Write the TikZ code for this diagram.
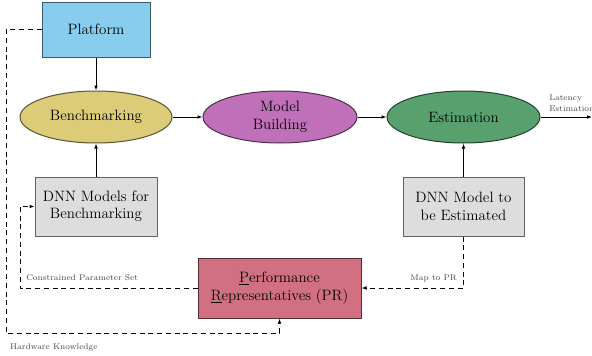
\documentclass[tikz,border=0pt]{standalone}
\usetikzlibrary{shapes.geometric,arrows.meta}
\definecolor{platblue}{HTML}{88CCEE}
\definecolor{benchsand}{HTML}{DDCC77}
\definecolor{modelpurple}{HTML}{C070B8}
\definecolor{estgreen}{HTML}{58A06E}
\definecolor{dnngray}{HTML}{DDDDDD}
\definecolor{prrose}{HTML}{D07080}
\definecolor{lblgray}{HTML}{444444}
\newcommand{\lblfont}{\fontsize{6.6}{8.8}\selectfont}
\begin{document}
\begin{tikzpicture}[x=0.8pt,y=-0.8pt]
\tikzstyle{block} = [draw,line width=0.8pt,align=center,font=\large,inner sep=0pt];
\tikzstyle{phase} = [block,ellipse,minimum width=152*0.8pt,minimum height=52*0.8pt];
\tikzstyle{flow} = [->,line width=0.8pt,>={Latex[length=4pt,width=3pt]}];
\tikzstyle{feed} = [flow,dash pattern=on 4pt off 3pt];
\tikzstyle{note} = [font=\lblfont,text=lblgray,inner sep=0pt];
\useasboundingbox (0,0) rectangle (592,355);

\node [block,fill=platblue,draw=platblue!45!black,minimum width=108*0.8pt,minimum height=55*0.8pt] (plat) at (96,29.5) {Platform};
\node [phase,fill=benchsand,draw=benchsand!40!black] (bench) at (96,117) {Benchmarking};
\node [phase,fill=modelpurple,draw=modelpurple!40!black,minimum width=154*0.8pt] (model) at (280,117) {Model\\Building};
\node [phase,fill=estgreen,draw=estgreen!40!black,minimum width=153*0.8pt] (est) at (463.5,117) {Estimation};
\node [block,fill=dnngray,draw=dnngray!45!black,minimum width=122*0.8pt,minimum height=59*0.8pt] (dnnb) at (96,206.5) {DNN Models for\\Benchmarking};
\node [block,fill=dnngray,draw=dnngray!45!black,minimum width=121*0.8pt,minimum height=59*0.8pt] (dnne) at (463.5,206.5) {DNN Model to\\be Estimated};
\node [block,fill=prrose,draw=prrose!40!black,minimum width=163*0.8pt,minimum height=60*0.8pt] (pr) at (279.5,288) {\underline{P}erformance\\\underline{R}epresentatives (PR)};

\coordinate (out) at (592,117);
\coordinate (hw) at (6,333);
\coordinate (cps) at (20,288);

\draw [flow] (plat) -- (bench);
\draw [flow] (bench) -- (model);
\draw [flow] (model) -- (est);
\draw [flow] (est) -- (out);
\draw [flow] (dnnb) -- (bench);
\draw [flow] (dnne) -- (est);

\draw [feed] (plat.west) -| (hw) -| (pr.south);
\draw [feed] (pr.west) -- (cps) |- (dnnb.west);
\draw [feed] (dnne.south) |- (pr.east);

\node [note,anchor=south west,align=left] (lat) at (549,112) {Latency\\Estimation};
\node [note,anchor=west] (cpsl) at (26,278) {Constrained Parameter Set};
\node [note,anchor=east] (mapl) at (457,278) {Map to PR};
\node [note,anchor=west] (hwl) at (10,347) {Hardware Knowledge};
\end{tikzpicture}
\end{document}
